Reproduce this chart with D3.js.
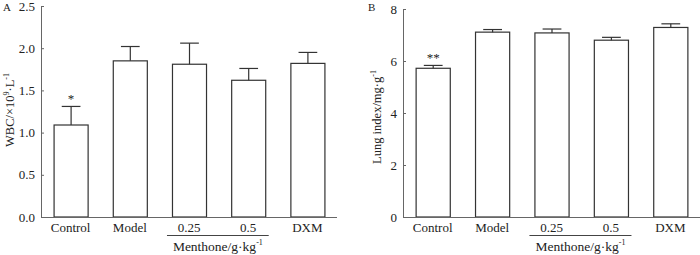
<!DOCTYPE html>
<html><head><meta charset="utf-8">
<script src="https://cdn.jsdelivr.net/npm/d3@7"></script>
<style>
body{margin:0;background:#fff;}
text{font-family:"Liberation Serif","Times New Roman",serif;fill:#222;}
</style></head>
<body><svg id="c" width="700" height="255"></svg>
<script>
const categories = ["Control","Model","0.25","0.5","DXM"];
const wbcValues = [1.09, 1.85, 1.81, 1.62, 1.82];
const wbcErrors = [0.22, 0.17, 0.25, 0.14, 0.13];
const wbcMarks = ["*","","","",""];
const wbcTicks = [0, 0.5, 1.0, 1.5, 2.0, 2.5];
const lungValues = [5.72, 7.11, 7.08, 6.80, 7.29];
const lungErrors = [0.11, 0.10, 0.15, 0.11, 0.14];
const lungMarks = ["**","","","",""];
const lungTicks = [0, 2, 4, 6, 8];

const svg = d3.select("#c");

function panel(cfg){
  const g = svg.append("g");
  const x = d3.scaleBand().domain(categories).range([cfg.x0, cfg.x1])
    .paddingInner(0.425).paddingOuter(0.2125);
  const y = d3.scaleLinear().domain(cfg.domain).range([217, cfg.yTop]);
  g.selectAll("rect.bar").data(cfg.values).join("rect")
    .attr("x", (d,i)=>x(categories[i])+0.5)
    .attr("y", d=>y(d))
    .attr("width", x.bandwidth())
    .attr("height", d=>y(0)-y(d))
    .attr("fill","#fff").attr("stroke","#333").attr("stroke-width",1.2);
  const cw = x.bandwidth()*0.55;
  cfg.values.forEach((v,i)=>{
    const cx = x(categories[i])+x.bandwidth()/2+0.5;
    g.append("line").attr("x1",cx).attr("x2",cx).attr("y1",y(v)).attr("y2",y(v+cfg.errors[i]))
      .attr("stroke","#333").attr("stroke-width",1.2);
    g.append("line").attr("x1",cx-cw/2).attr("x2",cx+cw/2).attr("y1",y(v+cfg.errors[i])).attr("y2",y(v+cfg.errors[i]))
      .attr("stroke","#333").attr("stroke-width",1.2);
    if(cfg.marks[i]){
      g.append("text").attr("x",cx).attr("y",y(v+cfg.errors[i])-3)
        .attr("text-anchor","middle").attr("font-size","13px").text(cfg.marks[i]);
    }
  });
  const ya = g.append("g").attr("transform",`translate(${cfg.x0},0)`)
    .call(d3.axisLeft(y).tickValues(cfg.ticks).tickFormat(cfg.fmt).tickSizeInner(-3).tickSizeOuter(0).tickPadding(6));
  ya.select(".domain").attr("stroke","#666");
  ya.selectAll(".tick line").attr("stroke","#666");
  ya.selectAll(".tick text").attr("font-family","Liberation Serif").attr("font-size","13px").attr("fill","#222");
  const xa = g.append("g").attr("transform",`translate(0,217)`)
    .call(d3.axisBottom(x).tickSize(0).tickPadding(6));
  xa.select(".domain").attr("stroke","#666").attr("d",`M${cfg.x0},0.5H${cfg.x1}`);
  xa.selectAll(".tick text").attr("font-family","Liberation Serif").attr("font-size","13px").attr("fill","#222");
  const lx1 = x("0.25")-5, lx2 = x("0.5")+x.bandwidth()+3.5;
  g.append("line").attr("x1",lx1).attr("x2",lx2).attr("y1",235.5).attr("y2",235.5)
    .attr("stroke","#444").attr("stroke-width",1);
  const mt = g.append("text").attr("x",(lx1+lx2)/2).attr("y",250.5).attr("text-anchor","middle")
    .attr("font-size","13.5px");
  mt.append("tspan").text("Menthone/g·kg");
  mt.append("tspan").attr("dy",-6).attr("font-size","8px").text("-1");
  const yl = g.append("text").attr("transform",`translate(${cfg.labelX},${cfg.labelY}) rotate(-90)`)
    .attr("text-anchor","middle").attr("font-size","12.5px");
  cfg.label(yl);
  g.append("text").attr("x",cfg.letterX).attr("y",11).attr("font-size","11px").text(cfg.letter);
}

panel({x0:41, x1:337, domain:[0,2.5], yTop:6, values:wbcValues, errors:wbcErrors, marks:wbcMarks,
  ticks:wbcTicks, fmt:d3.format(".1f"), labelX:14, labelY:110, letter:"A", letterX:3,
  label:(t)=>{ t.append("tspan").text("WBC/×10");
    t.append("tspan").attr("dy",-5).attr("font-size","8px").text("9");
    t.append("tspan").attr("dy",5).text("·L");
    t.append("tspan").attr("dy",-5).attr("font-size","8px").text("-1"); }});

panel({x0:403, x1:700, domain:[0,8], yTop:9, values:lungValues, errors:lungErrors, marks:lungMarks,
  ticks:lungTicks, fmt:d3.format("d"), labelX:381, labelY:117, letter:"B", letterX:368,
  label:(t)=>{ t.append("tspan").text("Lung index/mg·g");
    t.append("tspan").attr("dy",-5).attr("font-size","8px").text("-1"); }});
</script></body></html>
